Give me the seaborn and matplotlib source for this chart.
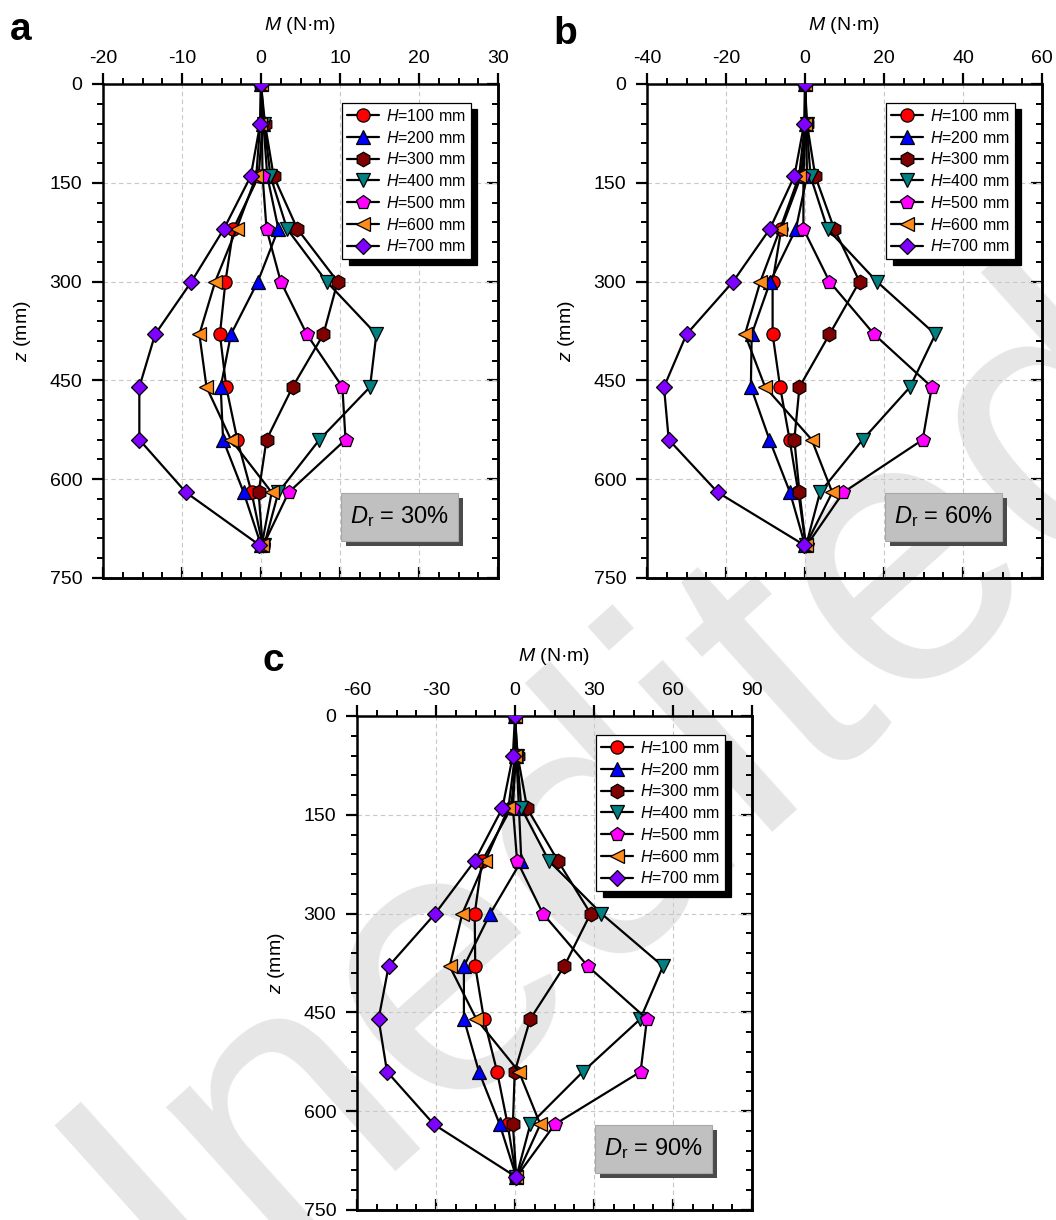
import numpy as np
import pandas as pd
import matplotlib
matplotlib.use("Agg")
import matplotlib.pyplot as plt
import seaborn as sns
from matplotlib.ticker import MultipleLocator
from matplotlib.patches import Rectangle

# ---------------- data ----------------
z_mm = [0, 60, 140, 220, 300, 380, 460, 540, 620, 700]
series_labels = [r"$H$=100 mm", r"$H$=200 mm", r"$H$=300 mm", r"$H$=400 mm",
                 r"$H$=500 mm", r"$H$=600 mm", r"$H$=700 mm"]

# Panel a: Dr = 30%
a_H100 = [0, 0.2, -0.3, -3.5, -4.5, -5.2, -4.4, -3.0, -1.2, 0.2]
a_H200 = [0, 0.3, 0.8, 2.2, -0.4, -3.8, -5.1, -4.8, -2.2, 0.0]
a_H300 = [0, 0.5, 1.6, 4.6, 9.7, 7.9, 4.0, 0.7, -0.3, 0.2]
a_H400 = [0, 0.4, 1.2, 3.3, 8.3, 14.6, 13.8, 7.4, 2.2, 0.4]
a_H500 = [0, 0.1, 0.2, 0.7, 2.5, 5.8, 10.3, 10.7, 3.5, 0.3]
a_H600 = [0, -0.1, -0.6, -3.1, -5.8, -7.8, -6.9, -3.8, 1.35, 0.1]
a_H700 = [0, -0.1, -1.3, -4.7, -8.8, -13.4, -15.4, -15.4, -9.5, -0.2]

# Panel b: Dr = 60%
b_H100 = [0, 0.3, -1.0, -6.0, -8.2, -8.2, -6.3, -3.9, -1.7, 0.2]
b_H200 = [0, 0.3, 0.5, -2.3, -8.8, -13.5, -13.7, -9.0, -3.8, 0.0]
b_H300 = [0, 0.5, 2.6, 7.4, 13.8, 6.2, -1.4, -2.7, -1.4, 0.2]
b_H400 = [0, 0.4, 1.4, 5.7, 18.2, 33.0, 26.6, 14.6, 3.8, 0.3]
b_H500 = [0, 0.2, -0.4, -0.4, 6.2, 17.5, 32.1, 29.8, 9.7, 0.5]
b_H600 = [0, 0.0, -1.5, -6.3, -11.3, -15.2, -10.1, 1.7, 6.9, 0.2]
b_H700 = [0, -0.2, -2.7, -8.9, -18.2, -30.0, -35.7, -34.5, -22.1, -0.2]

# Panel c: Dr = 90%
c_H100 = [0, 0.5, -1.5, -12.5, -15.3, -15.1, -11.8, -6.8, -2.8, 0.5]
c_H200 = [0, 0.5, 1.5, 2.4, -9.4, -19.4, -19.4, -13.7, -5.8, 0.5]
c_H300 = [0, 1.0, 4.6, 16.3, 28.7, 18.7, 5.8, -0.1, -0.8, 0.5]
c_H400 = [0, 0.8, 2.4, 12.9, 32.8, 56.2, 47.6, 25.8, 5.8, 0.5]
c_H500 = [0, 0.3, -0.8, 0.8, 10.6, 27.7, 50.1, 47.7, 15.1, 0.5]
c_H600 = [0, 0.0, -2.5, -11.3, -20.0, -24.8, -14.7, 1.5, 9.6, 0.5]
c_H700 = [0, -0.8, -4.8, -15.3, -30.3, -48.0, -51.8, -48.6, -30.8, 0.5]

panel_letters = ["a", "b", "c"]
dr_labels = ["30%", "60%", "90%"]
x_limits = [(-20, 30), (-40, 60), (-60, 90)]
x_major = [10, 20, 30]
watermark_text = "Inedited"

# ---------------- style ----------------
sns.set_theme(style="white")
plt.rcParams["font.family"] = ["Liberation Sans", "DejaVu Sans"]
plt.rcParams["mathtext.fontset"] = "custom"
plt.rcParams["mathtext.rm"] = "Liberation Sans"
plt.rcParams["mathtext.it"] = "Liberation Sans:italic"
plt.rcParams["mathtext.bf"] = "Liberation Sans:bold"
plt.rcParams["axes.unicode_minus"] = False
plt.rcParams["text.color"] = "black"
plt.rcParams["axes.labelcolor"] = "black"
plt.rcParams["xtick.color"] = "black"
plt.rcParams["ytick.color"] = "black"
plt.rcParams["xtick.labelcolor"] = "black"
plt.rcParams["ytick.labelcolor"] = "black"

face_colors = ["#ff0000", "#0000ff", "#800000", "#008080", "#ff00ff", "#ff8c1a", "#8000ff"]
markers = ["o", "^", "h", "v", "p", "<", "D"]
msizes = [9.5, 10, 10.5, 10, 10.5, 10, 8]

W, H = 1056, 1220
fig = plt.figure(figsize=(W / 100, H / 100), dpi=100)
fig.patch.set_facecolor("white")

# watermark (behind everything)
fig.text(195 / W, 1 - 1320 / H, watermark_text, rotation=42, rotation_mode="anchor",
         ha="left", va="baseline", fontsize=274, color="#e6e6e6", zorder=-10)

axes_px = [(103, 84), (647, 84), (357, 716)]
AW, AH = 395, 494

panel_data = [
    [a_H100, a_H200, a_H300, a_H400, a_H500, a_H600, a_H700],
    [b_H100, b_H200, b_H300, b_H400, b_H500, b_H600, b_H700],
    [c_H100, c_H200, c_H300, c_H400, c_H500, c_H600, c_H700],
]
letter_px = [(10, 40), (553, 44), (262, 671)]

for i in range(3):
    x0, y0 = axes_px[i]
    ax = fig.add_axes([x0 / W, 1 - (y0 + AH) / H, AW / W, AH / H])
    ax.set_facecolor("none")
    for j, vals in enumerate(panel_data[i]):
        df = pd.DataFrame({"M": vals, "z": z_mm})
        sns.lineplot(data=df, x="M", y="z", sort=False, estimator=None, ax=ax,
                     color="black", lw=1.6, marker=markers[j], markersize=msizes[j],
                     markerfacecolor=face_colors[j], markeredgecolor="black",
                     markeredgewidth=0.9, label=series_labels[j], zorder=3 + j)
    ax.set_xlim(*x_limits[i])
    ax.set_ylim(750, 0)
    ax.xaxis.set_major_locator(MultipleLocator(x_major[i]))
    ax.xaxis.set_minor_locator(MultipleLocator(x_major[i] / 4))
    ax.yaxis.set_major_locator(MultipleLocator(150))
    ax.yaxis.set_minor_locator(MultipleLocator(30))
    ax.tick_params(axis="x", which="both", top=True, bottom=False, labeltop=True,
                   labelbottom=False, direction="out")
    ax.tick_params(axis="y", which="both", left=True, right=False, direction="out")
    ax.tick_params(which="major", length=8, width=1.6, labelsize=14, color="black",
                   labelcolor="black")
    ax.tick_params(which="minor", length=4, width=1.4, color="black")
    ax.tick_params(axis="x", which="major", pad=4)
    ax.tick_params(axis="y", which="major", pad=7)
    ax.xaxis.set_label_position("top")
    ax.set_xlabel(r"$M$ (N·m)", fontsize=14, labelpad=15, color="black")
    ax.set_ylabel(r"$z$ (mm)", fontsize=14, labelpad=12, color="black")
    for sp in ax.spines.values():
        sp.set_linewidth(1.8)
        sp.set_color("black")
    ax.grid(True, which="major", color="#c8c8c8", linestyle=(0, (4, 3)), lw=0.8)
    ax.set_axisbelow(True)

    # mirrored inward ticks on bottom and right
    secx = ax.secondary_xaxis("bottom")
    secx.xaxis.set_major_locator(MultipleLocator(x_major[i]))
    secx.xaxis.set_minor_locator(MultipleLocator(x_major[i] / 4))
    secx.tick_params(which="both", direction="in", labelbottom=False, color="black")
    secx.tick_params(which="major", length=8, width=1.6)
    secx.tick_params(which="minor", length=4, width=1.4)
    secx.spines["bottom"].set_linewidth(1.8)
    secx.spines["bottom"].set_color("black")
    secy = ax.secondary_yaxis("right")
    secy.yaxis.set_major_locator(MultipleLocator(150))
    secy.yaxis.set_minor_locator(MultipleLocator(30))
    secy.tick_params(which="both", direction="in", labelright=False, color="black")
    secy.tick_params(which="major", length=8, width=1.6)
    secy.tick_params(which="minor", length=4, width=1.4)
    secy.spines["right"].set_linewidth(1.8)
    secy.spines["right"].set_color("black")

    leg = ax.legend(loc="upper right", bbox_to_anchor=(0.931, 0.9615), borderaxespad=0,
                    fontsize=11.5, frameon=True, fancybox=False, numpoints=1,
                    handlelength=2.0, handletextpad=0.45, borderpad=0.3,
                    labelspacing=0.36,
                    shadow={"ox": 4.5, "oy": -4.5, "facecolor": "black",
                            "edgecolor": "black", "alpha": 1})
    leg.get_frame().set_edgecolor("black")
    leg.get_frame().set_linewidth(0.9)
    leg.get_frame().set_facecolor("white")
    leg.get_frame().set_alpha(1)
    leg.set_zorder(20)
    for t in leg.get_texts():
        t.set_color("black")

    # Dr box with shadow
    bx, by, bw, bh = 0.6025, 0.075, 0.295, 0.097
    ax.add_patch(Rectangle((bx + 5 / AW, by - 5 / AH), bw, bh, transform=ax.transAxes,
                           facecolor="#4a4a4a", edgecolor="none", zorder=15))
    ax.add_patch(Rectangle((bx, by), bw, bh, transform=ax.transAxes,
                           facecolor="#c0c0c0", edgecolor="#a8a8a8", lw=0.8, zorder=16))
    ax.text(bx + bw / 2, by + bh / 2, r"$D_\mathrm{r}$ = " + dr_labels[i],
            transform=ax.transAxes, ha="center", va="center", fontsize=17,
            color="black", zorder=17)

    lx, ly = letter_px[i]
    fig.text(lx / W, 1 - ly / H, panel_letters[i], fontsize=28, fontweight="bold",
             ha="left", va="baseline", color="black")

fig.savefig("out.png", dpi=100)
